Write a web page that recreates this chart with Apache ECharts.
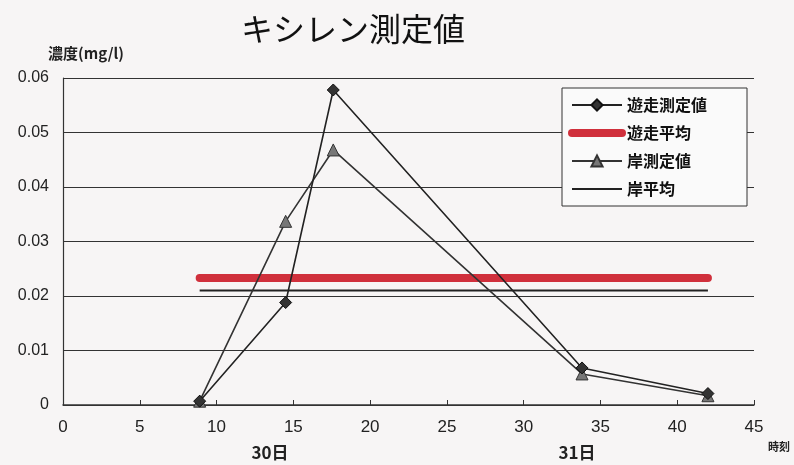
<!DOCTYPE html>
<html><head><meta charset="utf-8">
<script src="https://cdn.jsdelivr.net/npm/echarts@6/dist/echarts.min.js"></script>
<style>html,body{margin:0;padding:0;background:#f7f5f5;}#c{width:794px;height:465px;}</style>
</head><body><div id="c"></div>
<script>
const times = [8.9, 14.5, 17.6, 33.8, 42];
const yusouValues = [0.0007, 0.0188, 0.0578, 0.0068, 0.0021];
const yusouMean = [0.0233, 0.0233, 0.0233, 0.0233, 0.0233];
const kishiValues = [0.0007, 0.0337, 0.0468, 0.0057, 0.0017];
const kishiMean = [0.0210, 0.0210, 0.0210, 0.0210, 0.0210];
const seriesNames = ['遊走測定値', '遊走平均', '岸測定値', '岸平均'];
const dayLabels = ['30日', '31日'];

const pair = (xs, ys) => xs.map((x, i) => [x, ys[i]]);
const font = '"Noto Sans CJK JP", "Liberation Sans", sans-serif';
const chart = echarts.init(document.getElementById('c'));
chart.setOption({
  backgroundColor: '#f7f5f5',
  animation: false,
  title: {text: 'キシレン測定値', left: 236, top: 8, textStyle: {fontFamily: font, fontSize: 32, fontWeight: 'normal', color: '#111'}},
  grid: {left: 63, right: 40, top: 78, bottom: 60},
  legend: {
    orient: 'vertical', left: 562, top: 88, width: 190,
    padding: [9, 40, 9, 6], itemGap: 12, itemWidth: 50, itemHeight: 14,
    borderColor: '#333', borderWidth: 1, backgroundColor: '#fafafa',
    textStyle: {fontFamily: font, fontSize: 16, fontWeight: 'bold', color: '#111'},
    data: [
      {name: seriesNames[0]},
      {name: seriesNames[1], itemStyle: {opacity: 0}, lineStyle: {width: 8, cap: 'round'}},
      {name: seriesNames[2]},
      {name: seriesNames[3], itemStyle: {opacity: 0}}
    ]
  },
  xAxis: {
    type: 'value', min: 0, max: 45, interval: 5,
    axisLine: {lineStyle: {color: '#333', width: 1.5}},
    axisTick: {inside: true, length: 5, lineStyle: {color: '#333'}},
    axisLabel: {fontFamily: '"Liberation Sans Narrow", "Liberation Sans", sans-serif', fontSize: 17, color: '#222', margin: 14},
    splitLine: {show: false}
  },
  yAxis: {
    type: 'value', min: 0, max: 0.06, interval: 0.01,
    axisLine: {show: true, lineStyle: {color: '#333', width: 1.2}},
    axisTick: {show: false},
    axisLabel: {fontFamily: '"Liberation Sans", sans-serif', fontSize: 16, color: '#222', margin: 14},
    splitLine: {lineStyle: {color: '#333', width: 1.2}}
  },
  graphic: [
    {type: 'text', left: 48, top: 46, style: {text: '濃度(mg/l)', font: 'bold 15px ' + font, fill: '#222'}},
    {type: 'text', left: 768, top: 441, style: {text: '時刻', font: 'bold 11px ' + font, fill: '#222'}},
    {type: 'text', x: 270, y: 444, style: {text: dayLabels[0], font: 'bold 17px ' + font, fill: '#222', align: 'center'}},
    {type: 'text', x: 577, y: 444, style: {text: dayLabels[1], font: 'bold 17px ' + font, fill: '#222', align: 'center'}}
  ],
  series: [
    {name: seriesNames[0], type: 'line', data: pair(times, yusouValues), symbol: 'diamond', symbolSize: 12,
     lineStyle: {color: '#222', width: 1.6}, itemStyle: {color: '#333', borderColor: '#111', borderWidth: 1}, z: 5},
    {name: seriesNames[1], type: 'line', data: pair(times, yusouMean), symbol: 'none',
     lineStyle: {color: '#d0303c', width: 8, cap: 'round'}, itemStyle: {color: '#d0303c'}, z: 3},
    {name: seriesNames[2], type: 'line', data: pair(times, kishiValues), symbol: 'triangle', symbolSize: 12,
     lineStyle: {color: '#333', width: 1.6}, itemStyle: {color: '#777', borderColor: '#333', borderWidth: 1}, z: 4},
    {name: seriesNames[3], type: 'line', data: pair(times, kishiMean), symbol: 'none',
     lineStyle: {color: '#222', width: 2}, itemStyle: {color: '#222'}, z: 3}
  ]
});
</script></body></html>
